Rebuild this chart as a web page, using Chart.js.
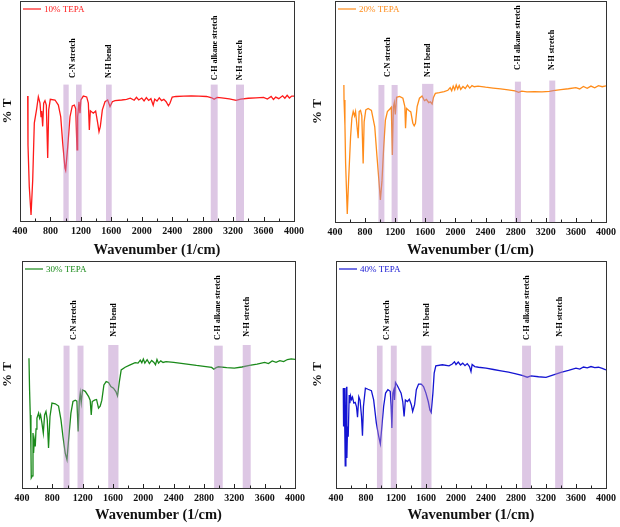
<!DOCTYPE html>
<html lang="en">
<head>
    <meta charset="UTF-8">
    <title>FTIR TEPA</title>
    <script src="https://cdn.jsdelivr.net/npm/chart.js"></script>
    <style>
        body { margin: 0; background: #fff; }
        .panel { position: absolute; }
    </style>
</head>
<body>
    <canvas id="c10" class="panel" width="310" height="262" style="left:0;top:0"></canvas>
    <canvas id="c20" class="panel" width="310" height="262" style="left:310px;top:0"></canvas>
    <canvas id="c30" class="panel" width="310" height="267" style="left:0;top:260px"></canvas>
    <canvas id="c40" class="panel" width="310" height="267" style="left:310px;top:260px"></canvas>

    <script>
        // 数据
        const bandNames = ['C-N stretch', 'N-H bend', 'C-H alkane stretch', 'N-H stretch'];
        const xTicks = [400, 800, 1200, 1600, 2000, 2400, 2800, 3200, 3600, 4000];

        // 10% TEPA
        const wave10 = [501, 505, 522, 545, 567, 588, 619, 641, 663, 676, 685, 698, 711, 728, 746, 764, 777, 798, 860, 904, 935, 961, 991, 1000, 1027, 1057, 1087, 1114, 1132, 1149, 1158, 1175, 1188, 1200, 1232, 1276, 1298, 1311, 1324, 1363, 1394, 1421, 1438, 1455, 1482, 1517, 1552, 1583, 1613, 1648, 1736, 1800, 1850, 1900, 1930, 1960, 2000, 2030, 2060, 2090, 2120, 2150, 2170, 2200, 2230, 2260, 2290, 2320, 2350, 2370, 2400, 2450, 2550, 2650, 2750, 2850, 2920, 2950, 2990, 3050, 3150, 3240, 3300, 3400, 3500, 3600, 3650, 3700, 3730, 3760, 3800, 3850, 3880, 3910, 3940, 3970, 4000];
        const trans10 = [56.8, 34.5, 15.6, 2.7, 18.6, 44.5, 51, 56.5, 53.6, 47.4, 50, 43, 53.6, 54.7, 52.7, 28.6, 50.5, 55.3, 55, 52.7, 47.4, 35.5, 24, 23, 33.8, 47.4, 52.3, 52.7, 51, 32.3, 47.4, 54.2, 49, 55, 56.8, 56.4, 53.6, 41.4, 50.1, 49, 50, 44.5, 40.6, 42.9, 50.5, 54.2, 55, 52, 54.2, 54.7, 55, 55.3, 55.8, 54.9, 56.2, 55.0, 55.9, 54.6, 56.1, 54.8, 55.6, 52.6, 55.4, 54.5, 56.0, 54.7, 55.3, 54.2, 52.4, 53.5, 56.3, 56.6, 56.8, 56.9, 56.8, 56.6, 56.0, 55.3, 56.2, 56.0, 55.5, 54.8, 55.4, 55.8, 56.0, 56.2, 55.4, 56.6, 55.2, 56.3, 55.6, 56.9, 55.8, 57.1, 55.9, 56.8, 56.8];
        const bandLo10 = [970, 1136, 1530, 2906, 3238];
        const bandHi10 = [1040, 1210, 1605, 2997, 3343];
        const bandTop10 = [62, 62, 62, 62, 62];
        const labelX10 = [1090, 1570, 2960, 3290];
        const labelY10 = [65, 65, 64, 64];

        // 20% TEPA
        const wave20 = [518, 520, 532, 541, 563, 581, 607, 624, 642, 660, 673, 695, 708, 721, 739, 756, 774, 787, 809, 840, 884, 928, 958, 981, 1003, 1024, 1047, 1069, 1096, 1126, 1148, 1162, 1175, 1188, 1201, 1218, 1258, 1302, 1328, 1337, 1350, 1381, 1407, 1434, 1452, 1469, 1491, 1522, 1557, 1588, 1615, 1645, 1667, 1690, 1708, 1733, 1786, 1850, 1900, 1930, 1950, 1970, 1990, 2010, 2030, 2050, 2070, 2100, 2130, 2160, 2190, 2220, 2250, 2300, 2400, 2500, 2600, 2700, 2790, 2840, 2880, 2950, 3050, 3150, 3250, 3300, 3400, 3500, 3600, 3650, 3700, 3750, 3800, 3850, 3900, 3950, 4000];
        const trans20 = [62, 55.2, 43.9, 26.5, 3.6, 19, 38.6, 47, 50, 48, 50, 42.4, 37.9, 50, 50.5, 48, 26.5, 45.3, 50.7, 51.4, 50.5, 43.1, 29.5, 19.8, 10, 18.6, 34, 46, 50, 51, 51.9, 30.3, 52, 54, 48.7, 56.4, 56.8, 56, 52.2, 42.4, 51.4, 50.5, 49.8, 44.7, 43.5, 44.7, 52.2, 56, 57, 54.9, 55.5, 54, 54.4, 53.4, 56.4, 58.2, 58.5, 59.0, 59.6, 60.8, 59.4, 61.5, 59.8, 62.0, 60.2, 61.8, 60.0, 61.3, 60.4, 61.9, 60.6, 61.7, 61.2, 61.5, 61.0, 60.6, 60.2, 59.8, 59.3, 58.7, 59.2, 58.9, 59.0, 58.9, 59.1, 59.4, 59.9, 60.3, 60.8, 60.2, 61.3, 60.5, 61.5, 60.7, 61.7, 61.2, 61.6];
        const bandLo20 = [977, 1152, 1557, 2790, 3247];
        const bandHi20 = [1056, 1232, 1707, 2870, 3326];
        const bandTop20 = [62, 62, 62.5, 63.5, 64];
        const labelX20 = [1097, 1632, 2829, 3287];
        const labelY20 = [65.6, 65.6, 68.8, 68.8];

        // 30% TEPA
        const wave30 = [492, 500, 509, 518, 522, 536, 545, 553, 562, 575, 585, 597, 619, 632, 645, 663, 681, 698, 716, 733, 750, 769, 795, 839, 882, 914, 940, 970, 993, 1014, 1045, 1072, 1102, 1124, 1141, 1155, 1168, 1181, 1198, 1234, 1277, 1299, 1313, 1326, 1356, 1383, 1409, 1431, 1453, 1480, 1510, 1541, 1572, 1606, 1638, 1659, 1681, 1708, 1760, 1826, 1892, 1930, 1960, 1980, 2000, 2020, 2050, 2080, 2110, 2140, 2160, 2180, 2200, 2230, 2260, 2300, 2400, 2500, 2600, 2700, 2800, 2900, 2930, 2960, 2990, 3100, 3200, 3300, 3400, 3500, 3600, 3650, 3700, 3750, 3800, 3850, 3900, 3950, 4000];
        const trans30 = [57.2, 43.2, 32.2, 16.8, 4.4, 5.3, 24.2, 15.4, 21.2, 18.3, 26, 30.8, 33, 30.8, 32.2, 28.6, 24.2, 32.2, 33.7, 30.1, 17.6, 31.5, 37.4, 37.1, 36.1, 30, 22.7, 15.4, 12.5, 21.2, 33, 38.1, 38.7, 38.3, 24.9, 38.1, 41.8, 37.6, 43.2, 42.6, 40.4, 38.7, 32.2, 38.1, 38.7, 39, 35.2, 36, 38.7, 45.4, 46.9, 46.5, 44.7, 44, 42.5, 40.6, 46.2, 52, 53.2, 54.2, 55.2, 55.0, 56.3, 55.2, 56.8, 55.0, 56.5, 54.8, 56.2, 55.3, 54.3, 56.6, 55.0, 56.0, 55.3, 55.7, 55.3, 54.9, 54.5, 54.0, 53.6, 53.1, 52.3, 53.0, 53.4, 53.0, 52.8, 53.3, 54.0, 54.6, 55.3, 54.8, 56.0, 55.4, 56.1, 55.7, 56.6, 56.9, 56.7];
        const bandLo30 = [948, 1132, 1537, 2933, 3311];
        const bandHi30 = [1027, 1211, 1672, 3047, 3416];
        const bandTop30 = [62.7, 62.7, 63, 62.7, 63];
        const labelX30 = [1089, 1616, 2988, 3363];
        const labelY30 = [65.2, 66.6, 65.2, 66.6];

        // 40% TEPA
        const wave40 = [497, 501, 510, 519, 523, 532, 541, 545, 554, 563, 576, 585, 594, 607, 620, 638, 656, 673, 687, 704, 721, 740, 753, 766, 792, 827, 872, 902, 938, 968, 991, 1008, 1035, 1061, 1092, 1123, 1136, 1145, 1158, 1172, 1180, 1193, 1224, 1268, 1290, 1308, 1325, 1352, 1378, 1404, 1422, 1448, 1471, 1501, 1537, 1567, 1599, 1630, 1652, 1669, 1692, 1709, 1731, 1819, 1907, 1950, 1980, 2000, 2030, 2060, 2090, 2120, 2150, 2180, 2200, 2215, 2250, 2300, 2400, 2500, 2600, 2700, 2800, 2880, 2950, 3000, 3100, 3200, 3300, 3400, 3500, 3600, 3650, 3700, 3750, 3800, 3850, 3900, 3950, 4000];
        const trans40 = [44, 27.1, 44, 21.2, 9.8, 27.9, 44.6, 13.2, 27.1, 22.6, 41, 37.4, 40.6, 39, 40, 37.4, 37.7, 35.9, 31.2, 40.2, 38.7, 31.5, 23, 35.9, 44, 43.5, 42.9, 38.8, 28.6, 23, 19.5, 25.8, 35.9, 41.8, 43.3, 42.6, 35.9, 26.4, 41.8, 43.3, 38.8, 46.5, 44.7, 41.8, 38.1, 31.5, 38.8, 38.1, 39.1, 36.7, 33.7, 36.7, 43.3, 45.8, 45.8, 44.7, 41.8, 38.1, 34.4, 33.3, 41.8, 50.6, 53.8, 54.3, 53.8, 54.6, 55.6, 54.4, 55.5, 54.2, 55.0, 53.9, 54.8, 53.5, 51.3, 54.4, 53.5, 53.2, 52.8, 52.2, 51.6, 51.0, 50.3, 49.6, 48.8, 49.4, 49.0, 48.7, 49.8, 50.9, 51.8, 52.8, 52.4, 53.3, 52.9, 53.5, 53.0, 53.2, 52.7, 52.0];
        const bandLo40 = [946, 1131, 1537, 2881, 3322];
        const bandHi40 = [1021, 1210, 1673, 3000, 3428];
        const bandTop40 = [62.7, 62.7, 62.7, 62.7, 62.7];
        const labelX40 = [1083, 1607, 2951, 3384];
        const labelY40 = [65.2, 66.6, 65.2, 66.6];

        const serif = '"Liberation Serif", "Times New Roman", serif';

        // 标注带、文字、图例、内向刻度、边框
        const irPlugin = {
            id: 'irMarks',
            afterDatasetsDraw(chart, args, opts) {
                const ctx = chart.ctx;
                const x = chart.scales.x, y = chart.scales.y;
                const area = chart.chartArea;
                ctx.save();
                ctx.fillStyle = 'rgba(180,130,195,0.45)';
                opts.lo.forEach((lo, i) => {
                    const x0 = x.getPixelForValue(lo);
                    const x1 = x.getPixelForValue(opts.hi[i]);
                    const y0 = y.getPixelForValue(opts.top[i]);
                    ctx.fillRect(x0, y0, x1 - x0, area.bottom - y0);
                });
                ctx.fillStyle = '#000';
                ctx.font = 'bold 8px ' + serif;
                ctx.textAlign = 'left';
                ctx.textBaseline = 'middle';
                bandNames.forEach((t, i) => {
                    ctx.save();
                    ctx.translate(x.getPixelForValue(opts.lx[i]), y.getPixelForValue(opts.ly[i]));
                    ctx.rotate(-Math.PI / 2);
                    ctx.fillText(t, 0, 0);
                    ctx.restore();
                });
                // 图例
                const ds = chart.data.datasets[0];
                ctx.strokeStyle = ds.borderColor;
                ctx.lineWidth = 1.2;
                ctx.beginPath();
                ctx.moveTo(area.left + 3, area.top + 8);
                ctx.lineTo(area.left + 21, area.top + 8);
                ctx.stroke();
                ctx.fillStyle = ds.borderColor;
                ctx.font = '9px ' + serif;
                ctx.fillText(ds.label, area.left + 24, area.top + 8.5);
                // 刻度
                ctx.strokeStyle = '#222';
                ctx.lineWidth = 1;
                x.ticks.forEach(t => {
                    const px = Math.round(x.getPixelForValue(t.value)) + 0.5;
                    const len = t.value % 400 === 0 ? 4 : 2.5;
                    ctx.beginPath();
                    ctx.moveTo(px, area.bottom);
                    ctx.lineTo(px, area.bottom - len);
                    ctx.stroke();
                });
                ctx.strokeStyle = '#333';
                ctx.strokeRect(Math.round(area.left) + 0.5, Math.round(area.top) + 0.5,
                    Math.round(area.right - area.left), Math.round(area.bottom - area.top));
                ctx.restore();
            }
        };

        function makeChart(id, label, color, wave, trans, marks, yWidth, xHeight, padRight) {
            const points = wave.map((w, i) => ({ x: w, y: trans[i] }));
            return new Chart(document.getElementById(id), {
                type: 'line',
                data: {
                    datasets: [{
                        label: label,
                        data: points,
                        borderColor: color,
                        borderWidth: 1.3,
                        pointRadius: 0,
                        tension: 0
                    }]
                },
                options: {
                    responsive: false,
                    animation: false,
                    devicePixelRatio: 1,
                    layout: { padding: { top: 1, right: padRight, bottom: 0, left: 0 } },
                    plugins: {
                        legend: { display: false },
                        tooltip: { enabled: false },
                        irMarks: marks
                    },
                    scales: {
                        x: {
                            type: 'linear',
                            min: 400,
                            max: 4000,
                            afterFit: s => { s.height = xHeight; },
                            grid: { display: false, drawTicks: false },
                            border: { display: false },
                            ticks: {
                                stepSize: 200,
                                autoSkip: false,
                                maxRotation: 0,
                                padding: 4,
                                color: '#111',
                                font: { family: serif, size: 10, weight: 'bold' },
                                callback: v => xTicks.includes(v) ? v : ''
                            },
                            title: {
                                display: true,
                                text: 'Wavenumber (1/cm)',
                                color: '#111',
                                padding: { top: 0, bottom: 3 },
                                font: { family: serif, size: 14.5, weight: 'bold' }
                            }
                        },
                        y: {
                            min: 0,
                            max: 100,
                            afterFit: s => { s.width = yWidth; },
                            grid: { display: false, drawTicks: false },
                            border: { display: false },
                            ticks: { display: false },
                            title: {
                                display: true,
                                text: '% T',
                                color: '#111',
                                padding: 0,
                                font: { family: serif, size: 13, weight: 'bold' }
                            }
                        }
                    }
                },
                plugins: [irPlugin]
            });
        }

        makeChart('c10', '10% TEPA', '#ff1a1a', wave10, trans10,
            { lo: bandLo10, hi: bandHi10, top: bandTop10, lx: labelX10, ly: labelY10 }, 20, 41, 16);
        makeChart('c20', '20% TEPA', '#ff8c1a', wave20, trans20,
            { lo: bandLo20, hi: bandHi20, top: bandTop20, lx: labelX20, ly: labelY20 }, 25, 40, 12);
        makeChart('c30', '30% TEPA', '#1a8a1a', wave30, trans30,
            { lo: bandLo30, hi: bandHi30, top: bandTop30, lx: labelX30, ly: labelY30 }, 22, 39, 15);
        makeChart('c40', '40% TEPA', '#1414d2', wave40, trans40,
            { lo: bandLo40, hi: bandHi40, top: bandTop40, lx: labelX40, ly: labelY40 }, 26, 39, 12);
    </script>
</body>
</html>
